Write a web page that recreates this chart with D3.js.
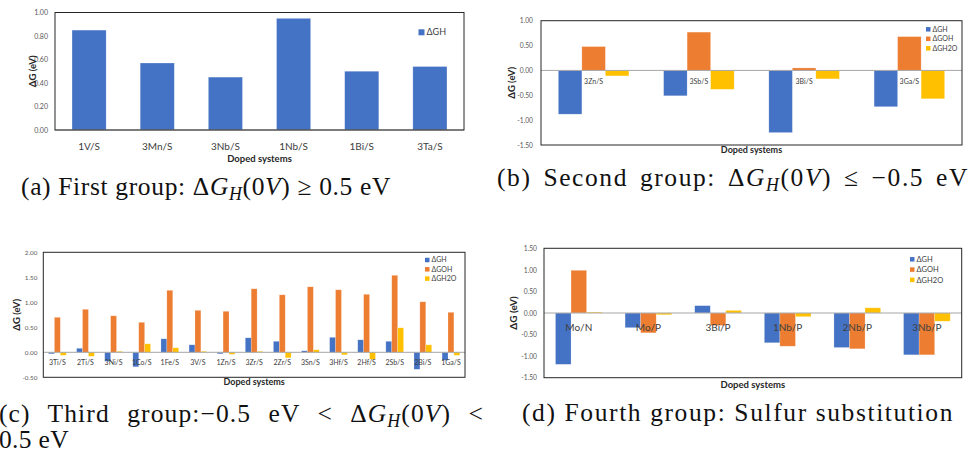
<!DOCTYPE html>
<html>
<head>
<meta charset="utf-8">
<script src="https://cdn.jsdelivr.net/npm/d3@7"></script>
<style>
  body { margin: 0; background: #fff; }
</style>
</head>
<body>
<div id="fig"></div>
<script>
// ---- data ----
const seriesNames = ["ΔGH", "ΔGOH", "ΔGH2O"];
const seriesColors = ["#4472C4", "#ED7D31", "#FFC000"];

// (a) first group
const categoriesA = ["1V/S", "3Mn/S", "3Nb/S", "1Nb/S", "1Bi/S", "3Ta/S"];
const ghA = [0.85, 0.57, 0.45, 0.95, 0.50, 0.54];
const ticksA = [0, 0.2, 0.4, 0.6, 0.8, 1.0];

// (b) second group
const categoriesB = ["3Zn/S", "3Sb/S", "3Bi/S", "3Ga/S"];
const ghB = [-0.88, -0.51, -1.25, -0.73];
const gohB = [0.48, 0.77, 0.05, 0.68];
const gh2oB = [-0.11, -0.38, -0.17, -0.57];
const ticksB = [-1.5, -1.0, -0.5, 0, 0.5, 1.0];

// (c) third group
const categoriesC = ["3Ti/S", "2Ti/S", "3Ni/S", "1Co/S", "1Fe/S", "3V/S", "1Zn/S", "3Zr/S",
  "2Zr/S", "3Sn/S", "3Hf/S", "2Hf/S", "2Sb/S", "2Bi/S", "1Ga/S"];
const ghC = [-0.03, 0.08, -0.18, -0.29, 0.27, 0.15, -0.03, 0.29, 0.22, 0.03, 0.30, 0.25, 0.22, -0.34, -0.16];
const gohC = [0.70, 0.86, 0.73, 0.60, 1.24, 0.84, 0.82, 1.27, 1.15, 1.31, 1.25, 1.16, 1.54, 1.01, 0.80];
const gh2oC = [-0.06, -0.08, 0.02, 0.17, 0.09, 0.02, -0.04, 0.02, -0.11, 0.05, -0.05, -0.14, 0.49, 0.15, -0.06];
const ticksC = [-0.5, 0, 0.5, 1.0, 1.5, 2.0];

// (d) fourth group
const categoriesD = ["Mo/N", "Mo/P", "3Bi/P", "1Nb/P", "2Nb/P", "3Nb/P"];
const ghD = [-1.19, -0.34, 0.17, -0.69, -0.80, -0.97];
const gohD = [0.99, -0.46, -0.29, -0.77, -0.83, -0.97];
const gh2oD = [0.02, -0.04, 0.06, -0.085, 0.12, -0.19];
const ticksD = [-1.5, -1.0, -0.5, 0, 0.5, 1.0, 1.5];

const sansFont = "Lato, 'Liberation Sans', sans-serif";
const serifFont = "'Liberation Serif', 'DejaVu Serif', serif";

const svg = d3.select("#fig")
    .append("svg")
    .attr("width", 972)
    .attr("height", 454)
    .style("font-family", sansFont);

function makeSeries(lists) {
    return lists.map((values, i) => ({ name: seriesNames[i], color: seriesColors[i], values: values }));
}

function drawPanel(p) {
    const g = svg.append("g");
    const keys = p.series.map(s => s.name);
    const rows = p.categories.map((c, i) => ({
        cat: c,
        vals: p.series.map(s => ({ key: s.name, color: s.color, v: s.values[i] }))
    }));

    const x0 = d3.scaleBand()
        .domain(p.categories)
        .range([p.left, p.right])
        .paddingInner(p.gap)
        .paddingOuter(p.gap / 2);
    const x1 = d3.scaleBand()
        .domain(keys)
        .range([0, x0.bandwidth()]);
    const y = d3.scaleLinear()
        .domain(p.domain)
        .range([p.bottom, p.top]);

    // bars
    g.append("g")
        .selectAll("g")
        .data(rows)
        .join("g")
        .attr("transform", d => `translate(${x0(d.cat)},0)`)
        .selectAll("rect")
        .data(d => d.vals)
        .join("rect")
        .attr("x", d => x1(d.key))
        .attr("width", x1.bandwidth())
        .attr("y", d => y(Math.max(0, d.v)))
        .attr("height", d => Math.abs(y(d.v) - y(0)))
        .attr("fill", d => d.color)
        .attr("stroke", "#ffffff")
        .attr("stroke-opacity", 0.35)
        .attr("stroke-width", 0.6);

    // zero line
    g.append("line")
        .attr("x1", p.left).attr("x2", p.right)
        .attr("y1", y(0)).attr("y2", y(0))
        .attr("stroke", "#a6a6a6")
        .attr("stroke-width", 1);

    // plot frame
    g.append("rect")
        .attr("x", p.left).attr("y", p.top)
        .attr("width", p.right - p.left)
        .attr("height", p.bottom - p.top)
        .attr("fill", "none")
        .attr("stroke", "#262626")
        .attr("stroke-width", 1);

    // y axis
    const ya = g.append("g")
        .attr("transform", `translate(${p.left},0)`)
        .call(d3.axisLeft(y).tickValues(p.ticks).tickFormat(d => d.toFixed(2)).tickSize(0).tickPadding(p.tickPad));
    ya.select(".domain").remove();
    ya.attr("font-family", sansFont).attr("font-size", p.tickFont);
    ya.selectAll("text").attr("fill", "#595959");

    // category labels
    const xa = g.append("g")
        .attr("transform", `translate(0,${p.labelY})`)
        .call(d3.axisBottom(x0).tickSize(0).tickPadding(0));
    xa.select(".domain").remove();
    xa.attr("font-family", sansFont).attr("font-size", p.labelFont);
    xa.selectAll("text").attr("y", 0).attr("dy", "0.35em").attr("fill", "#404040");

    // axis titles
    g.append("text")
        .attr("x", (p.left + p.right) / 2)
        .attr("y", p.xTitleY)
        .attr("dy", "0.35em")
        .attr("text-anchor", "middle")
        .attr("font-weight", "bold")
        .attr("font-size", p.xTitleFont)
        .attr("fill", "#262626")
        .text("Doped systems");
    g.append("text")
        .attr("transform", `translate(${p.yTitleX},${(p.top + p.bottom) / 2}) rotate(-90)`)
        .attr("dy", "0.35em")
        .attr("text-anchor", "middle")
        .attr("font-weight", "bold")
        .attr("font-size", p.yTitleFont)
        .attr("fill", "#262626")
        .text("ΔG (eV)");

    // legend
    const lg = g.append("g")
        .selectAll("g")
        .data(p.series)
        .join("g")
        .attr("transform", (d, i) => `translate(${p.legendX},${p.legendY + i * p.legendStep})`);
    lg.append("rect")
        .attr("x", 0).attr("y", -p.legendBox / 2)
        .attr("width", p.legendBox).attr("height", p.legendBox)
        .attr("fill", d => d.color);
    lg.append("text")
        .attr("x", p.legendBox + 2)
        .attr("dy", "0.35em")
        .attr("font-size", p.legendFont)
        .attr("fill", "#404040")
        .text(d => d.name);
}

drawPanel({
    categories: categoriesA, series: makeSeries([ghA]), ticks: ticksA,
    left: 55, right: 464, top: 12.5, bottom: 130, domain: [0, 1], gap: 0.5,
    tickPad: 7, tickFont: 7, labelY: 146, labelFont: 10,
    xTitleY: 159, xTitleFont: 9.5, yTitleX: 33, yTitleFont: 9.5,
    legendX: 418.5, legendY: 32.3, legendStep: 10, legendBox: 6, legendFont: 9
});

drawPanel({
    categories: categoriesB, series: makeSeries([ghB, gohB, gh2oB]), ticks: ticksB,
    left: 541, right: 962, top: 20.7, bottom: 145, domain: [-1.5, 1], gap: 0.33,
    tickPad: 8, tickFont: 6.7, labelY: 81.7, labelFont: 7,
    xTitleY: 150, xTitleFont: 9, yTitleX: 512, yTitleFont: 9.5,
    legendX: 926, legendY: 29.3, legendStep: 9.5, legendBox: 4.5, legendFont: 7
});

drawPanel({
    categories: categoriesC, series: makeSeries([ghC, gohC, gh2oC]), ticks: ticksC,
    left: 43.3, right: 465, top: 252.3, bottom: 377.3, domain: [-0.5, 2], gap: 0.37,
    tickPad: 6, tickFont: 6.3, labelY: 363, labelFont: 7,
    xTitleY: 381.7, xTitleFont: 9, yTitleX: 17, yTitleFont: 9.5,
    legendX: 425, legendY: 260, legendStep: 9.3, legendBox: 4.5, legendFont: 7
});

drawPanel({
    categories: categoriesD, series: makeSeries([ghD, gohD, gh2oD]), ticks: ticksD,
    left: 544, right: 961.7, top: 248.3, bottom: 377.7, domain: [-1.5, 1.5], gap: 0.33,
    tickPad: 7, tickFont: 6.7, labelY: 327, labelFont: 10,
    xTitleY: 385, xTitleFont: 9.5, yTitleX: 513, yTitleFont: 10,
    legendX: 910, legendY: 259.3, legendStep: 10.3, legendBox: 4.5, legendFont: 7.5
});

// ---- sub-figure captions: one font size, spacing stretched to the widths seen ----
const captionSize = 25.5;
const captions = [
    { x: 21, y: 195, width: 370, wordShare: 0, parts: [["(a) First group: ", ""], ["Δ", ""], ["G", "i"], ["H", "sub"], ["(0", ""], ["V", "i"], [") ≥ 0.5 eV", ""]] },
    { x: 497, y: 186, width: 472, wordShare: 0.3, parts: [["(b) Second group: ", ""], ["Δ", ""], ["G", "i"], ["H", "sub"], ["(0", ""], ["V", "i"], [") ≤ −0.5 eV", ""]] },
    { x: -1, y: 422, width: 485, wordShare: 0.6, parts: [["(c) Third group:−0.5 eV < ", ""], ["Δ", ""], ["G", "i"], ["H", "sub"], ["(0", ""], ["V", "i"], [") <", ""]] },
    { x: -1, y: 448, width: 70, wordShare: 0, parts: [["0.5 eV", ""]] },
    { x: 522, y: 421, width: 432, wordShare: 0, parts: [["(d) Fourth group: Sulfur substitution", ""]] }
];

captions.forEach(function (c) {
    const t = svg.append("text")
        .attr("x", c.x)
        .attr("y", c.y)
        .attr("font-family", serifFont)
        .attr("font-size", captionSize)
        .attr("fill", "#111");
    c.parts.forEach(function (part, i) {
        const prev = i > 0 ? c.parts[i - 1][1] : "";
        const ts = t.append("tspan").text(part[0]);
        if (part[1] === "i") ts.attr("font-style", "italic");
        if (part[1] === "sub") ts.attr("font-style", "italic").attr("font-size", "0.7em").attr("dy", 5);
        if (prev === "sub") ts.attr("dy", -5);
    });
    const full = c.parts.map(d => d[0]).join("");
    const n = full.length;
    const spaces = (full.match(/ /g) || []).length;
    const extra = c.width - t.node().getComputedTextLength();
    // the justified line (c) gets part of its extra width in the word gaps, as TeX does
    t.attr("word-spacing", spaces > 0 ? extra * c.wordShare / spaces : 0)
        .attr("letter-spacing", extra * (1 - c.wordShare) / n);
});
</script>
</body>
</html>
